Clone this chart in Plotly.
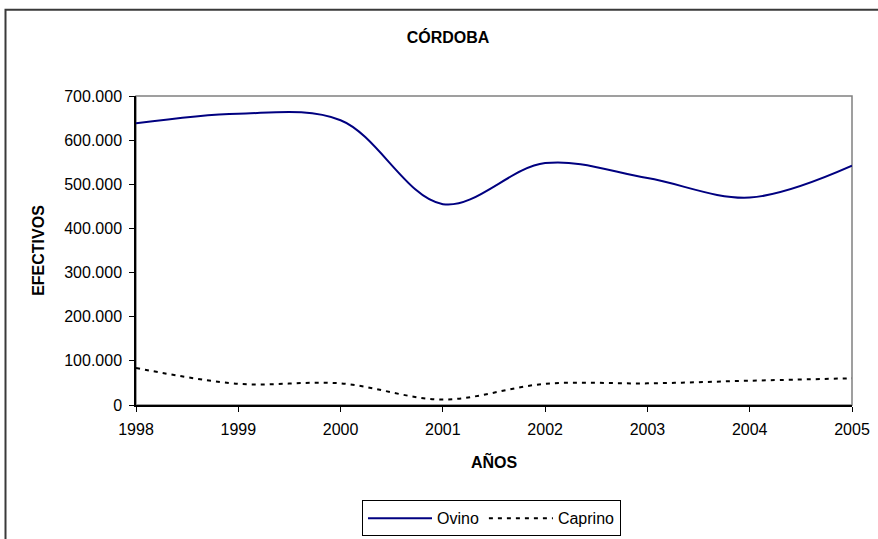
import plotly.graph_objects as go

years = [1998, 1999, 2000, 2001, 2002, 2003, 2004, 2005]
ovino = [638000, 660000, 645000, 455000, 548000, 514000, 470000, 542000]
caprino = [84000, 48000, 49000, 12500, 48000, 49000, 55000, 60500]

W, H = 878, 539
PL, PR, PT, PB = 136, 852, 96, 405.5   # plot area in window pixels
L = PL
R = W - PR
T = PT
B = H - PB
pw = PR - PL
ph = PB - PT

def px_x(x):
    return (x - PL) / pw

def px_y(y):
    return (PB - y) / ph

FONT = "Liberation Sans, Arial, sans-serif"

fig = go.Figure()
fig.add_trace(go.Scatter(
    x=years, y=ovino, name="Ovino", mode="lines",
    line=dict(color="#000080", width=2, shape="spline", smoothing=1.0),
))
fig.add_trace(go.Scatter(
    x=years, y=caprino, name="Caprino", mode="lines",
    line=dict(color="#000000", width=2, dash="4px,5px", shape="spline", smoothing=1.0),
))

fig.update_layout(
    width=W, height=H,
    margin=dict(l=L, r=R, t=T, b=B, autoexpand=False),
    paper_bgcolor="white", plot_bgcolor="white",
    separators=",.",
    font=dict(family=FONT, size=16, color="black"),
    title=dict(text="<b>CÓRDOBA</b>", x=px_x(448), xref="paper", xanchor="center",
               y=1 - 37 / H, yref="container", yanchor="middle",
               font=dict(size=16, family=FONT)),
    showlegend=True,
    legend=dict(orientation="h", x=px_x(362), xanchor="left", xref="paper",
                y=px_y(501), yanchor="top", yref="paper",
                bordercolor="black", borderwidth=1, bgcolor="white",
                font=dict(size=16, family=FONT), traceorder="normal",
                itemwidth=64),
    xaxis=dict(range=[1998, 2005], tickmode="array", tickvals=years,
               ticktext=[str(y) for y in years],
               showgrid=False, zeroline=False, showline=True, linecolor="black",
               linewidth=1.5, ticks="outside", ticklen=5, tickcolor="black",
               tickwidth=1, ticklabelstandoff=4,
               title=dict(text="<b>AÑOS</b>", standoff=20, font=dict(size=16))),
    yaxis=dict(range=[0, 700000], dtick=100000, tickformat=",d",
               showgrid=False, zeroline=False, showline=True, linecolor="black",
               linewidth=1.5, ticks="outside", ticklen=5, tickcolor="black",
               tickwidth=1, ticklabelstandoff=4,
               title=dict(text="<b>EFECTIVOS</b>", standoff=16, font=dict(size=16))),
    shapes=[
        dict(type="rect", xref="paper", yref="paper", x0=0, x1=1, y0=0, y1=1,
             line=dict(color="#808080", width=1.5), layer="below"),
        dict(type="rect", xref="paper", yref="paper",
             x0=px_x(5.5), x1=px_x(W + 30), y0=px_y(H + 30), y1=px_y(9.5),
             line=dict(color="#3a3a3a", width=2), layer="below"),
    ],
)

fig.write_html("out.html", config={"displayModeBar": False},
               post_script="document.body.style.margin='0';")
